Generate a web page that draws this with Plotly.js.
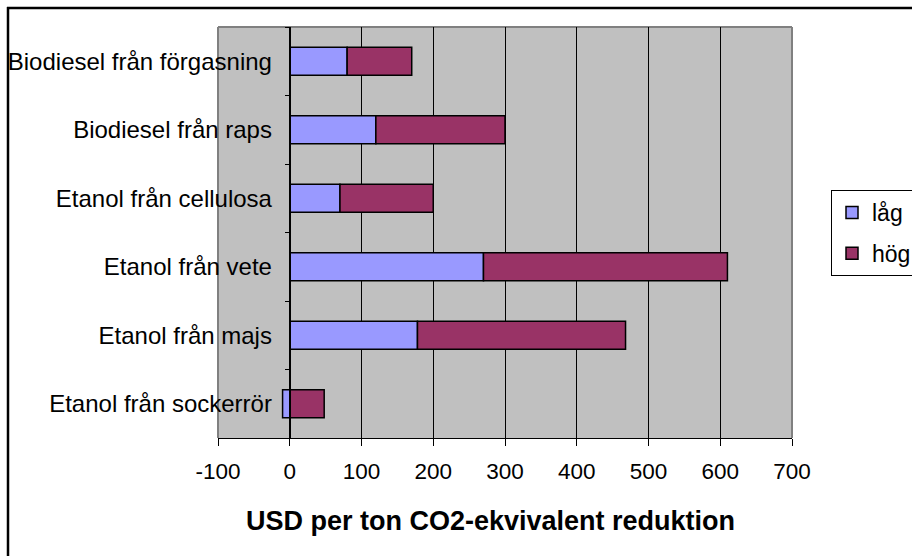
<!DOCTYPE html>
<html>
<head>
<meta charset="utf-8">
<script src="https://cdn.plot.ly/plotly-3.0.1.min.js"></script>
<style>html,body{margin:0;padding:0;background:#fff;overflow:hidden;}#chart{width:912px;height:556px;}</style>
</head>
<body>
<div id="chart"></div>
<script>
const categories = ["Etanol från sockerrör", "Etanol från majs", "Etanol från vete", "Etanol från cellulosa", "Biodiesel från raps", "Biodiesel från förgasning"];
const seriesNames = ["låg", "hög"];
const lowValues = [-10, 178, 270, 70, 120, 80];
const highValues = [48, 290, 340, 130, 180, 90];
const xTickValues = [-100, 0, 100, 200, 300, 400, 500, 600, 700];
const xTitle = "USD per ton CO2-ekvivalent reduktion";

const FONT = "Liberation Sans, Arial, sans-serif";
const traces = [
  {type: "bar", orientation: "h", name: seriesNames[0], y: categories, x: lowValues, legendgroup: "a",
   marker: {color: "#9999FF", line: {color: "#000", width: 1.5}}},
  {type: "bar", orientation: "h", name: seriesNames[1], y: categories, x: highValues, legendgroup: "b",
   marker: {color: "#993366", line: {color: "#000", width: 1.5}}}
];

const L = 218, R = 792, T = 27, B = 438, W = 912, H = 556;
const px = v => (v - L) / (R - L);
const py = v => (B - v) / (B - T);

const layout = {
  width: W, height: H,
  margin: {l: L, r: W - R, t: T, b: H - B, pad: 0, autoexpand: false},
  paper_bgcolor: "#ffffff",
  plot_bgcolor: "#C0C0C0",
  barmode: "relative",
  bargap: 0.59,
  font: {family: FONT, size: 22, color: "#000"},
  showlegend: true,
  legend: {x: px(831), y: py(190), xanchor: "left", yanchor: "top",
           bgcolor: "#fff", bordercolor: "#000", borderwidth: 1,
           traceorder: "grouped", tracegroupgap: 8,
           font: {family: FONT, size: 23, color: "#000"}},
  xaxis: {range: [-100, 700], tickvals: xTickValues, ticktext: xTickValues.map(String),
          showgrid: true, gridcolor: "#000", gridwidth: 1, zeroline: false,
          showline: true, linecolor: "#000", linewidth: 1,
          ticks: "outside", ticklen: 7, tickcolor: "#000", tickwidth: 1,
          ticklabelstandoff: 6, fixedrange: true, automargin: false,
          tickfont: {family: FONT, size: 22.5}},
  yaxis: {type: "category", categoryorder: "array", categoryarray: categories,
          anchor: "free", position: 0.125, automargin: false,
          showgrid: false, zeroline: false, showline: true, linecolor: "#000", linewidth: 1,
          ticks: "outside", ticklen: 5, tickcolor: "#000", tickwidth: 1, tickson: "boundaries",
          ticklabelstandoff: 13, tickfont: {family: FONT, size: 24}, fixedrange: true},
  annotations: [
    {text: xTitle, xref: "paper", yref: "paper", x: px(490), y: py(521), xanchor: "center", yanchor: "middle",
     showarrow: false, font: {family: FONT, size: 27, weight: "bold", color: "#000"}}
  ],
  shapes: [
    {type: "line", xref: "paper", yref: "paper", x0: 0, x1: 0, y0: 0, y1: 1, line: {color: "#808080", width: 2}, layer: "between"},
    {type: "line", xref: "paper", yref: "paper", x0: 0, x1: 1, y0: 1, y1: 1, line: {color: "#808080", width: 2}, layer: "between"},
    {type: "line", xref: "paper", yref: "paper", x0: 1, x1: 1, y0: 0, y1: 1, line: {color: "#808080", width: 2}, layer: "between"},
    {type: "line", xref: "paper", yref: "paper", x0: px(8), x1: px(8), y0: py(7), y1: py(560), line: {color: "#000", width: 2.5}, layer: "above"},
    {type: "line", xref: "paper", yref: "paper", x0: px(7), x1: px(916), y0: py(8), y1: py(8), line: {color: "#000", width: 2.5}, layer: "above"}
  ]
};

Plotly.newPlot("chart", traces, layout, {displayModeBar: false, staticPlot: true});
</script>
</body>
</html>
